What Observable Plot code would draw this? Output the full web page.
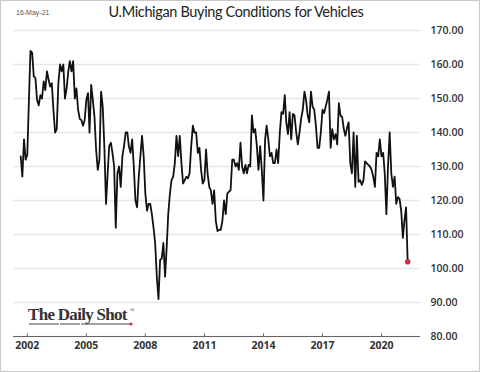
<!DOCTYPE html>
<html>
<head>
<meta charset="utf-8">
<script src="https://cdn.jsdelivr.net/npm/d3@7"></script>
<script src="https://cdn.jsdelivr.net/npm/@observablehq/plot@0.6"></script>
<style>
  html, body { margin: 0; padding: 0; background: #fff; }
  #frame { position: relative; width: 480px; height: 372px; box-sizing: border-box; border: 1px solid #c9c9c9; overflow: hidden; background: #fff; }
  #date { position: absolute; left: 15px; top: 8px; font: 7px "Liberation Sans", sans-serif; color: #555; }
  #title { height: 21px; width: 470px; text-align: center; font: 14.5px Lato, sans-serif; letter-spacing: -0.35px; color: #222; line-height: 22px; }
  svg { display: block; }
</style>
</head>
<body>
<div id="frame">
  <div id="date">16-May-21</div>
  <div id="title">U.Michigan Buying Conditions for Vehicles</div>
  <div id="chart"></div>
</div>
<script>
// Monthly index values, ending May 2021
const values = [
  133, 127, 138, 132, 133.5, 150, 164, 163.5, 156.5, 156,
  149.6, 148, 151, 150, 155, 152.5, 158, 155.5, 153.5, 154.5,
  146.7, 140, 141, 154.5, 160, 158, 160, 150, 153, 158,
  161, 158, 161, 150, 153, 146.7, 144, 143.7, 142, 143.7,
  149.6, 151.6, 140, 154, 149.6, 144.7, 135, 129, 132, 152,
  147.6, 136, 119, 128, 136, 137, 134, 130, 112, 128,
  130, 124, 133, 136, 140, 140, 136, 134, 138, 130,
  120, 118, 127, 133, 139, 133, 122, 117, 119, 119,
  116, 112, 107.5, 97.6, 91, 102.5, 103, 107.5, 97.6, 106.5,
  116, 122, 126, 127, 131, 139, 133, 139, 131, 125,
  126, 127, 126.5, 128, 136, 142, 140, 140, 134, 135.5,
  129, 125, 126, 135, 128, 124, 123, 119, 123, 114,
  111, 111.4, 111.4, 114, 120, 116, 122, 122.6, 123, 132,
  132, 130, 131, 129, 137, 130, 128, 130.5, 128, 130.5,
  130, 145, 140, 141, 136, 129, 136, 129, 120, 138,
  142, 138, 133, 134, 131, 131, 135, 131, 140, 146,
  145.5, 151, 143, 139.5, 146, 138, 145.5, 145, 140, 136.5,
  140, 144, 146.7, 152, 149.6, 145, 143, 152, 147.6, 146.7,
  142, 135.5, 135.5, 140, 146.7, 145.7, 147.6, 149.6, 152, 135.5,
  141, 138, 139.5, 136.5, 148.6, 145, 144.5, 141, 139, 141.3,
  143, 131, 128, 140, 124, 139, 125.5, 126, 124.6, 126,
  131.5, 131, 130.5, 130, 129, 127, 124, 134, 133, 138,
  133, 134, 128, 116, 130, 140, 128, 124, 127, 119,
  121, 120.5, 117, 109, 114, 118, 102
];
const lastMonth = new Date(Date.UTC(2021, 4, 1));
const yTicks = [80, 90, 100, 110, 120, 130, 140, 150, 160, 170];
const xTickYears = [2002, 2005, 2008, 2011, 2014, 2017, 2020];

const firstMonth = d3.utcMonth.offset(lastMonth, -(values.length - 1));
const data = values.map((v, i) => ({ date: d3.utcMonth.offset(firstMonth, i), value: v }));
const xTicks = xTickYears.map(y => new Date(Date.UTC(y, 0, 1)));

const chart = Plot.plot({
  width: 478,
  height: 349,
  marginTop: 8,
  marginBottom: 35,
  marginLeft: 12,
  marginRight: 59,
  style: { fontFamily: "'Open Sans', sans-serif", background: "transparent", overflow: "visible" },
  x: { type: "utc", domain: [new Date(Date.UTC(2001, 3, 20)), new Date(Date.UTC(2021, 11, 25))] },
  y: { domain: [80, 170] },
  marks: [
    Plot.gridY(yTicks, { stroke: "#e6e6e6", strokeOpacity: 1, strokeWidth: 1.5 }),
    Plot.ruleY([80], { stroke: "#666", strokeWidth: 1 }),
    Plot.axisY(yTicks, { anchor: "right", tickSize: 0, tickPadding: 10, tickFormat: d3.format(".2f"), fontWeight: 600, fontSize: 10.5, fill: "#333", label: null }),
    Plot.axisX(xTicks, { tickSize: 0, tickPadding: 5, tickFormat: d3.utcFormat("%Y"), fontWeight: 700, fontSize: 10.5, fill: "#333", label: null }),
    Plot.ruleX(xTicks, { x: d => d, y1: 80, y2: 80.8, stroke: "#666" }),
    Plot.lineY(data, { x: "date", y: "value", stroke: "#111", strokeWidth: 1.8 }),
    Plot.dot([data[data.length - 1]], { x: "date", y: "value", r: 2.8, fill: "#d12b4b", stroke: "none" })
  ]
});
document.getElementById("chart").appendChild(chart);

// The Daily Shot logo
const svg = d3.select(chart);
const logo = svg.append("g").attr("transform", "translate(27,298)").attr("text-anchor", "start");
logo.append("text")
  .attr("x", 0).attr("y", 0)
  .attr("text-anchor", "start")
  .attr("font-family", "'Liberation Serif', serif")
  .attr("font-size", 17)
  .attr("font-weight", 600)
  .attr("letter-spacing", -0.7)
  .attr("fill", "#333")
  .text("The Daily Shot");
logo.append("text")
  .attr("x", 102).attr("y", -8)
  .attr("text-anchor", "start")
  .attr("font-family", "'Liberation Serif', serif")
  .attr("font-size", 6)
  .attr("fill", "#333")
  .text("®");
logo.append("line")
  .attr("x1", 1).attr("x2", 102).attr("y1", 4).attr("y2", 4)
  .attr("stroke", "#444").attr("stroke-width", 1).attr("stroke-dasharray", "30,1,20,1,50");
logo.append("circle").attr("cx", 103).attr("cy", 4).attr("r", 1.6).attr("fill", "#d12b4b");
</script>
</body>
</html>
